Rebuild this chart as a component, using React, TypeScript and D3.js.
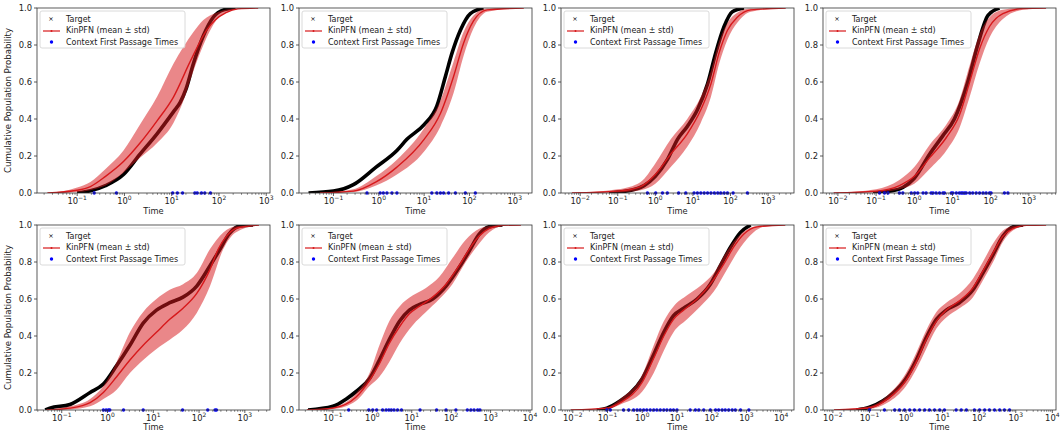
import React from "react";
import * as d3 from "d3";

// x-axis limits per panel, as log10(time)
const X_DOMAIN = [
	[-1.85, 3.08],
	[-1.76, 3.38],
	[-2.51, 3.69],
	[-2.39, 3.71],
	[-1.54, 3.55],
	[-1.86, 4.05],
	[-2.34, 4.37],
	[-2.27, 4.1],
];

// target CDF: [log10 time, probability]
const TARGET = [
	[[-1.0, 0], [-0.72, 0.012], [-0.4, 0.04], [-0.02, 0.1], [0.33, 0.21], [0.69, 0.32], [1.04, 0.44], [1.18, 0.49], [1.3, 0.56], [1.46, 0.7], [1.67, 0.85], [1.88, 0.95], [2.1, 0.99], [2.35, 1.0]],
	[[-1.55, 0], [-1.0, 0.01], [-0.56, 0.045], [-0.06, 0.14], [0.4, 0.23], [0.62, 0.29], [1.0, 0.37], [1.28, 0.47], [1.47, 0.63], [1.62, 0.76], [1.8, 0.88], [2.02, 0.97], [2.31, 1.0]],
	[[-1.23, 0], [-1.0, 0.005], [-0.65, 0.015], [-0.3, 0.04], [0, 0.09], [0.32, 0.18], [0.59, 0.29], [0.85, 0.36], [1.12, 0.45], [1.39, 0.59], [1.61, 0.76], [1.83, 0.9], [2.05, 0.98], [2.36, 1.0]],
	[[-1.08, 0], [-0.65, 0.01], [-0.3, 0.03], [0, 0.08], [0.4, 0.21], [0.75, 0.31], [1.05, 0.4], [1.4, 0.6], [1.66, 0.8], [1.93, 0.96], [2.23, 1.0]],
	[[-1.36, 0], [-1.26, 0.01], [-0.82, 0.03], [-0.38, 0.095], [-0.09, 0.14], [0.2, 0.24], [0.49, 0.35], [0.78, 0.47], [1.07, 0.54], [1.36, 0.58], [1.65, 0.61], [1.95, 0.67], [2.24, 0.78], [2.46, 0.87], [2.65, 0.95], [2.89, 0.995], [3.18, 1.0]],
	[[-1.63, 0], [-1.0, 0.02], [-0.66, 0.06], [-0.41, 0.1], [-0.07, 0.17], [0.18, 0.27], [0.43, 0.38], [0.69, 0.48], [0.94, 0.54], [1.19, 0.57], [1.53, 0.6], [1.87, 0.67], [2.2, 0.77], [2.46, 0.86], [2.71, 0.95], [2.96, 0.99], [3.3, 1.0]],
	[[-1.31, 0], [-1.02, 0.01], [-0.63, 0.05], [-0.35, 0.09], [0, 0.17], [0.33, 0.3], [0.62, 0.42], [0.9, 0.51], [1.19, 0.55], [1.58, 0.6], [1.96, 0.68], [2.25, 0.78], [2.54, 0.88], [2.83, 0.96], [3.12, 1.0]],
	[[-1.36, 0], [-1.0, 0.015], [-0.63, 0.05], [-0.36, 0.09], [0, 0.17], [0.28, 0.27], [0.55, 0.39], [0.83, 0.49], [1.1, 0.54], [1.46, 0.58], [1.83, 0.65], [2.1, 0.74], [2.38, 0.84], [2.65, 0.94], [2.92, 0.99], [3.2, 1.0]],
];

// KinPFN mean: [log10 time, probability]
const MEAN = [
	[[-1.63, 0], [-1.0, 0.015], [-0.72, 0.035], [-0.4, 0.09], [-0.02, 0.17], [0.33, 0.27], [0.69, 0.39], [1.04, 0.52], [1.39, 0.71], [1.74, 0.88], [1.92, 0.935], [2.15, 0.975], [2.4, 0.995], [2.83, 1]],
	[[-1.3, 0], [-0.56, 0.01], [-0.06, 0.06], [0.4, 0.14], [1.0, 0.29], [1.36, 0.43], [1.65, 0.63], [1.87, 0.81], [2.09, 0.93], [2.39, 0.99], [3.2, 1]],
	[[-2.22, 0], [-1.0, 0.01], [-0.39, 0.035], [0, 0.1], [0.41, 0.21], [0.85, 0.32], [1.21, 0.45], [1.48, 0.59], [1.7, 0.76], [1.92, 0.88], [2.18, 0.95], [2.54, 0.99], [3.47, 1]],
	[[-2.11, 0], [-1.0, 0.01], [-0.39, 0.04], [0, 0.09], [0.4, 0.19], [0.84, 0.3], [1.18, 0.42], [1.45, 0.6], [1.71, 0.78], [1.97, 0.9], [2.32, 0.97], [2.84, 0.997], [3.45, 1]],
	[[-1.33, 0], [-0.82, 0.01], [-0.38, 0.04], [-0.09, 0.095], [0.2, 0.18], [0.49, 0.27], [0.78, 0.35], [1.07, 0.42], [1.36, 0.49], [1.65, 0.55], [1.95, 0.63], [2.24, 0.76], [2.42, 0.87], [2.6, 0.94], [2.85, 0.985], [3.31, 1]],
	[[-1.66, 0], [-1.0, 0.01], [-0.41, 0.07], [-0.07, 0.16], [0.18, 0.25], [0.43, 0.36], [0.69, 0.45], [0.94, 0.52], [1.19, 0.56], [1.53, 0.61], [1.87, 0.68], [2.2, 0.78], [2.46, 0.87], [2.71, 0.94], [2.96, 0.98], [3.3, 0.998], [3.77, 1]],
	[[-2.06, 0], [-1.02, 0.01], [-0.63, 0.04], [0, 0.15], [0.33, 0.28], [0.62, 0.4], [0.9, 0.49], [1.19, 0.54], [1.58, 0.6], [1.96, 0.68], [2.35, 0.79], [2.63, 0.88], [2.92, 0.95], [3.31, 0.99], [4.12, 1]],
	[[-1.97, 0], [-1.0, 0.012], [-0.5, 0.06], [0, 0.16], [0.28, 0.26], [0.55, 0.38], [0.83, 0.48], [1.1, 0.54], [1.46, 0.59], [1.83, 0.66], [2.1, 0.75], [2.38, 0.85], [2.65, 0.94], [2.92, 0.98], [3.29, 0.998], [3.83, 1]],
];

// mean ± std band: [log10 time, lower, upper]
const BAND = [
	[[-1.63, 0, 0], [-1.0, 0.005, 0.03], [-0.72, 0.015, 0.06], [-0.4, 0.04, 0.13], [-0.02, 0.11, 0.23], [0.33, 0.19, 0.37], [0.69, 0.27, 0.52], [1.04, 0.38, 0.7], [1.25, 0.5, 0.79], [1.46, 0.66, 0.87], [1.67, 0.8, 0.935], [1.95, 0.935, 0.975], [2.2, 0.98, 0.993], [2.5, 0.997, 1], [2.83, 1, 1]],
	[[-1.3, 0, 0], [-0.56, 0.005, 0.02], [-0.06, 0.04, 0.09], [0.4, 0.1, 0.18], [1.0, 0.225, 0.35], [1.36, 0.36, 0.5], [1.65, 0.54, 0.71], [1.87, 0.74, 0.87], [2.09, 0.89, 0.96], [2.39, 0.98, 0.997], [3.2, 1, 1]],
	[[-2.22, 0, 0], [-1.0, 0.003, 0.02], [-0.39, 0.015, 0.06], [0, 0.05, 0.16], [0.41, 0.14, 0.29], [0.85, 0.25, 0.4], [1.21, 0.38, 0.52], [1.48, 0.52, 0.66], [1.7, 0.7, 0.82], [1.92, 0.83, 0.92], [2.18, 0.92, 0.975], [2.54, 0.98, 0.997], [3.47, 1, 1]],
	[[-2.11, 0, 0], [-1.0, 0.003, 0.02], [-0.39, 0.02, 0.07], [0, 0.05, 0.14], [0.4, 0.13, 0.26], [0.84, 0.23, 0.37], [1.18, 0.35, 0.5], [1.45, 0.52, 0.69], [1.71, 0.7, 0.86], [1.97, 0.84, 0.95], [2.32, 0.94, 0.99], [2.84, 0.99, 1.0], [3.45, 1, 1]],
	[[-1.33, 0, 0], [-0.82, 0.003, 0.02], [-0.38, 0.02, 0.06], [-0.09, 0.06, 0.13], [0.2, 0.11, 0.26], [0.49, 0.2, 0.42], [0.78, 0.27, 0.53], [1.07, 0.33, 0.6], [1.36, 0.38, 0.65], [1.65, 0.435, 0.68], [1.95, 0.525, 0.74], [2.24, 0.67, 0.87], [2.53, 0.87, 0.96], [2.8, 0.96, 0.993], [3.31, 1, 1]],
	[[-1.66, 0, 0], [-1.0, 0.005, 0.015], [-0.41, 0.05, 0.09], [-0.07, 0.13, 0.2], [0.18, 0.18, 0.35], [0.43, 0.26, 0.48], [0.69, 0.36, 0.56], [1.03, 0.46, 0.62], [1.36, 0.53, 0.66], [1.7, 0.6, 0.72], [2.03, 0.68, 0.82], [2.37, 0.8, 0.92], [2.71, 0.9, 0.98], [2.96, 0.96, 0.995], [3.3, 0.995, 1], [3.77, 1, 1]],
	[[-2.06, 0, 0], [-1.02, 0.005, 0.015], [-0.63, 0.03, 0.06], [0, 0.1, 0.19], [0.33, 0.2, 0.35], [0.62, 0.32, 0.48], [0.9, 0.42, 0.56], [1.29, 0.49, 0.62], [1.67, 0.56, 0.67], [2.06, 0.64, 0.74], [2.44, 0.76, 0.86], [2.83, 0.88, 0.95], [3.2, 0.96, 0.99], [3.6, 0.995, 1], [4.12, 1, 1]],
	[[-1.97, 0, 0], [-1.0, 0.005, 0.02], [-0.5, 0.04, 0.08], [0, 0.13, 0.2], [0.28, 0.22, 0.31], [0.55, 0.33, 0.43], [0.83, 0.44, 0.53], [1.1, 0.5, 0.58], [1.46, 0.55, 0.63], [1.83, 0.61, 0.71], [2.1, 0.7, 0.8], [2.38, 0.8, 0.9], [2.65, 0.91, 0.97], [2.92, 0.97, 0.995], [3.29, 0.996, 1], [3.83, 1, 1]],
];

// context first passage times, log10
const CONTEXT = [
	[-0.64, -0.17, 1.02, 1.12, 1.23, 1.49, 1.54, 1.63, 1.7, 1.82],
	[-0.26, 0.03, 0.1, 0.18, 0.29, 0.4, 1.17, 1.28, 1.36, 1.43, 1.54, 1.69, 1.91, 2.13],
	[-0.21, 0.01, 0.19, 0.32, 0.62, 0.81, 1.03, 1.12, 1.21, 1.3, 1.39, 1.48, 1.57, 1.66, 1.74, 1.83, 1.92, 2.07, 2.45],
	[-0.91, -0.78, -0.69, -0.39, -0.3, -0.08, 0.01, 0.09, 0.23, 0.31, 0.44, 0.49, 0.57, 0.66, 0.75, 0.79, 0.97, 1.01, 1.1, 1.18, 1.23, 1.27, 1.32, 1.36, 1.45, 1.53, 1.62, 1.71, 1.8, 1.88, 1.97, 2.01, 2.36, 2.45],
	[-0.09, -0.03, 0.02, 0.05, 0.35, 0.78, 1.64, 2.19, 2.35, 2.38],
	[-0.6, -0.09, 0.01, 0.11, 0.26, 0.35, 0.42, 0.48, 0.55, 0.64, 0.74, 1.21, 1.63, 1.87, 2.12, 2.41, 2.5, 2.58, 2.67, 2.73],
	[-1.02, -0.92, -0.54, -0.39, -0.25, -0.15, -0.06, 0.04, 0.13, 0.23, 0.33, 0.42, 0.52, 0.62, 0.71, 0.81, 0.9, 1.0, 1.38, 1.53, 1.63, 1.77, 1.96, 2.11, 2.2, 2.3, 2.39, 2.49, 2.59, 2.68, 2.83, 3.07],
	[-1.0, -0.59, -0.31, -0.18, -0.04, 0.1, 0.23, 0.37, 0.51, 0.64, 0.78, 0.92, 1.05, 1.37, 1.51, 1.65, 1.87, 2.01, 2.15, 2.28, 2.42, 2.56, 2.69, 2.83],
];

const Y_TICKS = [0, 0.2, 0.4, 0.6, 0.8, 1.0];
const LEGEND = ["Target", "KinPFN (mean ± std)", "Context First Passage Times"];

const FONT = "DejaVu Sans, sans-serif";
const RED = "#d7191c";

function Panel({ idx }) {
	const col = idx % 4;
	const row = Math.floor(idx / 4);
	const left = 37 + col * 262;
	const top = 8 + row * 217;
	const w = 233;
	const h = 185;

	const [d0, d1] = X_DOMAIN[idx];
	const x = d3.scaleLog().domain([Math.pow(10, d0), Math.pow(10, d1)]).range([0, w]);
	const y = d3.scaleLinear().domain([0, 1]).range([h, 0]);
	const px = (l) => x(Math.pow(10, l));

	const line = d3.line().x((d) => px(d[0])).y((d) => y(d[1])).curve(d3.curveMonotoneX);
	const area = d3
		.area()
		.x((d) => px(d[0]))
		.y0((d) => y(d[1]))
		.y1((d) => y(d[2]))
		.curve(d3.curveMonotoneX);

	const major = d3.range(Math.ceil(d0), Math.floor(d1) + 1);
	const minor = [];
	for (let k = Math.floor(d0); k <= Math.floor(d1); k++) {
		for (let m = 2; m <= 9; m++) {
			const l = k + Math.log10(m);
			if (l > d0 && l < d1) minor.push(l);
		}
	}

	const clipId = "clip" + idx;

	return (
		<g transform={`translate(${left},${top})`}>
			<defs>
				<clipPath id={clipId}>
					<rect x={0} y={0} width={w} height={h} />
				</clipPath>
			</defs>

			<g clipPath={`url(#${clipId})`}>
				{/* target, drawn first so the band tints it */}
				<path d={line(TARGET[idx])} fill="none" stroke="#000" strokeWidth={3.6} strokeLinejoin="round" />
				<path d={area(BAND[idx])} fill={RED} fillOpacity={0.52} stroke="none" />
				<path d={line(MEAN[idx])} fill="none" stroke={RED} strokeWidth={1.4} />
			</g>

			{CONTEXT[idx].map((c, i) => (
				<circle key={i} cx={px(c)} cy={y(0)} r={1.7} fill="#0000ff" />
			))}

			{/* frame */}
			<rect x={0} y={0} width={w} height={h} fill="none" stroke="#333" strokeWidth={0.8} />

			{/* y axis */}
			{Y_TICKS.map((t) => (
				<g key={t} transform={`translate(0,${y(t)})`}>
					<line x1={-3} x2={0} stroke="#333" strokeWidth={0.8} />
					<text x={-5} dy="0.32em" textAnchor="end" fontSize={8.4} fontFamily={FONT} fill="#222">
						{t.toFixed(1)}
					</text>
				</g>
			))}

			{/* x axis */}
			{minor.map((l, i) => (
				<line key={"m" + i} x1={px(l)} x2={px(l)} y1={h} y2={h + 1.8} stroke="#333" strokeWidth={0.6} />
			))}
			{major.map((k) => (
				<g key={k} transform={`translate(${px(k)},${h})`}>
					<line y1={0} y2={3} stroke="#333" strokeWidth={0.8} />
					<text y={10.8} textAnchor="middle" fontSize={8.4} fontFamily={FONT} fill="#222">
						<tspan>10</tspan>
						<tspan dy={-3.8} fontSize={6}>
							{k < 0 ? "\u2212" + -k : String(k)}
						</tspan>
					</text>
				</g>
			))}
			<text x={w / 2} y={h + (row === 1 ? 19.8 : 21)} textAnchor="middle" fontSize={8.3} fontFamily={FONT} fill="#222">
				Time
			</text>

			{col === 0 && (
				<text
					transform={`translate(${-26},${h / 2}) rotate(-90)`}
					textAnchor="middle"
					fontSize={8.6}
					fontFamily={FONT}
					fill="#222"
				>
					Cumulative Population Probability
				</text>
			)}

			{/* legend */}
			<g transform="translate(3,3)">
				<rect width={145} height={37} rx={2} fill="#fff" fillOpacity={0.8} stroke="#d0d0d0" strokeWidth={0.8} />
				<text x={11} y={8} textAnchor="middle" dy="0.35em" fontSize={6.5} fontFamily={FONT} fill="#000">
					×
				</text>
				<line x1={3} x2={20} y1={20} y2={20} stroke={RED} strokeWidth={1.2} />
				<circle cx={11.5} cy={20} r={1} fill={RED} />
				<circle cx={11.5} cy={31} r={1.7} fill="#0000ff" />
				{LEGEND.map((s, i) => (
					<text key={s} x={26} y={8 + i * 11.5} dy="0.35em" fontSize={8} fontFamily={FONT} fill="#222">
						{s}
					</text>
				))}
			</g>
		</g>
	);
}

export default function App() {
	return (
		<svg
			width={1063}
			height={431}
			style={{ position: "absolute", left: 0, top: 0, background: "#fff" }}
		>
			{X_DOMAIN.map((_, i) => (
				<Panel key={i} idx={i} />
			))}
		</svg>
	);
}
